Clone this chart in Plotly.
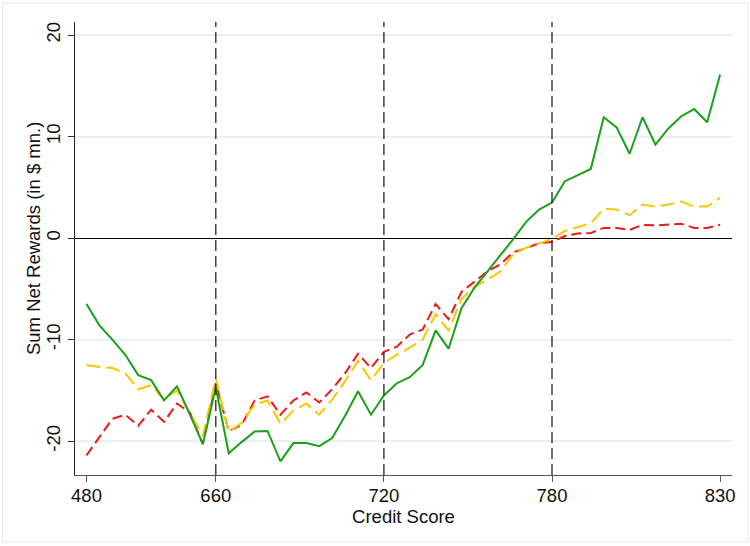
import plotly.graph_objects as go

# Credit-score bins (ordered bin index) and the labels shown on the axis
bin_index = list(range(50))
tick_bins = [0, 10, 23, 36, 49]
tick_labels = ["480", "660", "720", "780", "830"]
cutoff_bins = [10, 23, 36]

# Sum of net rewards per bin (in $ mn.) for the three series
series_green = [-6.5, -8.6, -10.0, -11.5, -13.5, -14.0, -16.0, -14.6, -17.4, -20.3,
                -14.7, -21.2, -20.1, -19.05, -19.0, -22.0, -20.2, -20.2, -20.5, -19.7,
                -17.5, -15.1, -17.4, -15.5, -14.3, -13.7, -12.5, -9.1, -10.9, -6.9,
                -4.9, -3.3, -1.8, -0.1, 1.6, 2.8, 3.5, 5.6, 6.2, 6.8,
                11.9, 10.9, 8.3, 11.9, 9.2, 10.8, 12.0, 12.7, 11.4, 16.1]
series_yellow = [-12.5, -12.7, -12.8, -13.3, -14.9, -14.5, -15.9, -15.0, -17.2, -19.5,
                 -13.8, -19.1, -18.2, -16.4, -16.0, -18.3, -17.0, -16.3, -17.4, -15.9,
                 -14.1, -12.1, -14.0, -12.3, -11.5, -10.8, -10.0, -7.5, -9.1, -6.0,
                 -4.8, -4.1, -3.3, -1.6, -0.95, -0.5, -0.1, 0.7, 1.1, 1.45,
                 2.9, 2.8, 2.25, 3.3, 3.1, 3.3, 3.6, 3.1, 3.1, 3.95]
series_red = [-21.4, -19.6, -17.8, -17.4, -18.5, -16.9, -18.1, -16.3, -17.2, -20.3,
              -14.3, -19.0, -18.4, -16.0, -15.6, -17.4, -16.0, -15.2, -16.2, -14.9,
              -13.3, -11.4, -12.8, -11.2, -10.7, -9.5, -9.0, -6.5, -8.0, -5.3,
              -4.3, -3.3, -2.6, -1.4, -1.0, -0.5, -0.4, 0.2, 0.45, 0.5,
              1.0, 1.0, 0.8, 1.3, 1.25, 1.35, 1.4, 1.0, 1.0, 1.3]

y_ticks = [-20, -10, 0, 10, 20]

FONT = "Liberation Sans, Arial, sans-serif"

fig = go.Figure()
fig.add_trace(go.Scatter(x=bin_index, y=series_red, mode="lines",
                         line=dict(color="#f01818", width=2, dash="10px,5px"),
                         showlegend=False))
fig.add_trace(go.Scatter(x=bin_index, y=series_yellow, mode="lines",
                         line=dict(color="#f7c800", width=2, dash="14px,6px"),
                         showlegend=False))
fig.add_trace(go.Scatter(x=bin_index, y=series_green, mode="lines",
                         line=dict(color="#1aa01a", width=2),
                         showlegend=False))

# Vertical dashed reference lines at the score cutoffs
for b in cutoff_bins:
    fig.add_shape(type="line", xref="x", yref="paper", x0=b, x1=b, y0=0, y1=1,
                  line=dict(color="#222222", width=1.3, dash="11px,5px"), layer="above")

# Outer frame of the graph region
fig.add_shape(type="rect", xref="paper", yref="paper",
              x0=-0.1103, x1=1.0243, y0=-0.1476, y1=1.0419,
              line=dict(color="#e2eaec", width=1), layer="below")

fig.update_layout(
    width=750, height=546,
    margin=dict(l=74.5, r=18, t=22, b=71),
    paper_bgcolor="white", plot_bgcolor="white",
    font=dict(family=FONT, size=18, color="#111111"),
    xaxis=dict(
        range=[-0.889, 49.92],
        tickvals=tick_bins, ticktext=tick_labels,
        showgrid=False, zeroline=False,
        showline=True, linecolor="#555555", linewidth=1.3,
        ticks="outside", ticklen=6, tickcolor="#555555", tickwidth=1.2,
        ticklabelstandoff=-2,
        tickfont=dict(size=18.5),
        title=dict(text="Credit Score", font=dict(size=18.5), standoff=1),
    ),
    yaxis=dict(
        range=[-23.34, 21.28],
        tickvals=y_ticks, ticktext=[str(v) for v in y_ticks],
        tickangle=-90,
        showgrid=True, gridcolor="#eaf1f3", gridwidth=1.5,
        zeroline=True, zerolinecolor="#000000", zerolinewidth=1.3,
        showline=True, linecolor="#222222", linewidth=1.3,
        ticks="outside", ticklen=6, tickcolor="#333333", tickwidth=1.2,
        tickfont=dict(size=18.5),
    ),
    annotations=[dict(
        text="Sum Net Rewards (in $ mn.)", textangle=-90,
        xref="paper", yref="paper",
        x=(33 - 74.5) / 657.5, y=(475 - 238) / 454,
        xanchor="center", yanchor="middle", showarrow=False,
        font=dict(size=18.5, family=FONT),
    )],
)

fig.write_html("out.html")
